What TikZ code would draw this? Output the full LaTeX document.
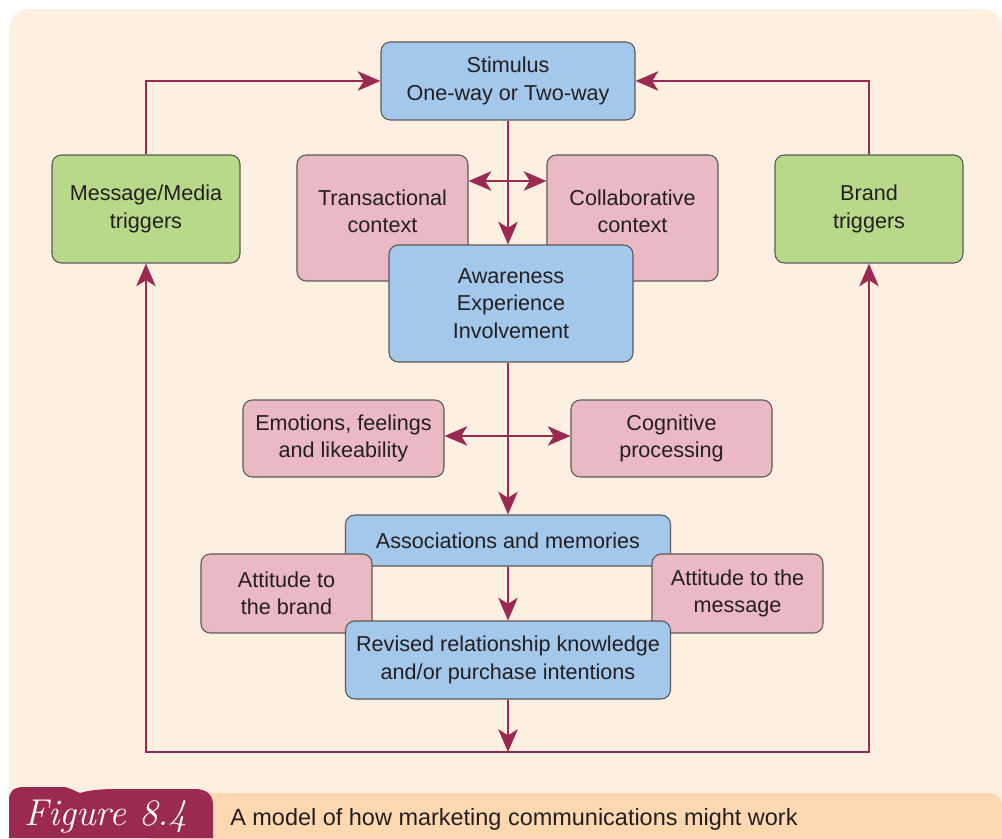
\documentclass[tikz,border=0pt]{standalone}
\usepackage{fontspec}
\newfontfamily\sansf{Liberation Sans}
\usetikzlibrary{arrows.meta}
\definecolor{cream}{HTML}{FDF0E1}
\definecolor{peach}{HTML}{FDD8B0}
\definecolor{badge}{HTML}{9B2A52}
\definecolor{bblue}{HTML}{A3C8EB}
\definecolor{bgreen}{HTML}{B9D98A}
\definecolor{bpink}{HTML}{EBB9C4}
\definecolor{bord}{HTML}{5A5A5A}
\definecolor{arrc}{HTML}{9B2A52}
\definecolor{txtc}{HTML}{231F20}
\tikzset{
  box/.style={draw=bord, line width=0.8pt, rounded corners=7pt, inner sep=0pt, align=center,
              font=\sansf\fontsize{16.2}{20.5}\selectfont, text=txtc},
  bluebox/.style={box, fill=bblue},
  greenbox/.style={box, fill=bgreen},
  pinkbox/.style={box, fill=bpink},
  txt/.style={align=center, font=\sansf\fontsize{16.2}{20.5}\selectfont, text=txtc, inner sep=0pt},
  tip/.tip={Stealth[length=17pt, width=14.5pt, inset=4.5pt]},
  arr/.style={draw=arrc, line width=2.1pt, -tip},
  arrtwo/.style={draw=arrc, line width=2.1pt, tip-tip}
}
\begin{document}
\begin{tikzpicture}[x=0.75pt, y=-0.75pt]
\useasboundingbox (0,0) rectangle (1002,838);
\fill[white] (0,0) rectangle (1002,838);
% panel
\fill[cream, rounded corners=15pt] (9,9) rectangle (1002,800);
\fill[cream] (9,400) rectangle (1002,800);
% caption bar
\fill[peach, rounded corners=9pt] (150,793) rectangle (1002,860);
% badge
\fill[badge] (9,838) -- (9,800) .. controls (9,791) and (14,787) .. (24,787)
  -- (62,787) .. controls (70,787) and (74,791) .. (80,793)
  .. controls (90,790) and (100,789) .. (120,789) -- (195,789)
  .. controls (207,789) and (213,795) .. (213,805) -- (213,838) -- cycle;
\node[anchor=west, text=white, inner sep=0pt, font=\itshape\fontsize{28}{32}\selectfont] (fig) at (24,817) {Figure 8.4};
\node[anchor=west, text=txtc, inner sep=0pt, font=\sansf\fontsize{17.6}{20}\selectfont] (cap) at (230,819) {A model of how marketing communications might work};

% boxes
\node[bluebox, minimum width=190.5pt, minimum height=58.5pt] (stim) at (508,81) {Stimulus\\One-way or Two-way};
\node[greenbox, minimum width=141pt, minimum height=81pt] (msg) at (146,209) {Message/Media\\triggers};
\node[greenbox, minimum width=141pt, minimum height=81pt] (brand) at (869,209) {Brand\\triggers};
\node[pinkbox, minimum width=128.25pt, minimum height=94.5pt] (trans) at (382.5,218) {};
\node[txt] (transT) at (382.5,211) {Transactional\\context};
\node[pinkbox, minimum width=128.25pt, minimum height=94.5pt] (collab) at (632.5,218) {};
\node[txt] (collabT) at (632.5,211) {Collaborative\\context};
\node[bluebox, minimum width=183pt, minimum height=87.75pt] (aware) at (511,303.5) {Awareness\\Experience\\Involvement};
\node[pinkbox, minimum width=150.75pt, minimum height=57.75pt] (emo) at (343.5,438.5) {Emotions, feelings\\and likeability};
\node[pinkbox, minimum width=150.75pt, minimum height=57.75pt] (cog) at (671.5,438.5) {Cognitive\\processing};
\node[bluebox, minimum width=243.75pt, minimum height=38.25pt] (assoc) at (508,540.5) {Associations and memories};
\node[pinkbox, minimum width=128.25pt, minimum height=59.25pt] (attb) at (286.5,593.5) {Attitude to\\the brand};
\node[pinkbox, minimum width=128.25pt, minimum height=59.25pt] (attm) at (737.5,593.5) {Attitude to the\\message};
\node[bluebox, minimum width=243.75pt, minimum height=58.5pt] (rev) at (508,660) {Revised relationship knowledge\\and/or purchase intentions};

\coordinate (junc) at (508,752);

% connectors
\draw[arr] (msg.north) |- (stim.west);
\draw[arr] (brand.north) |- (stim.east);
\draw[arr] (stim.south) -- (stim.south |- aware.north);
\draw[arrtwo] ([yshift=27.75pt]trans.east) -- ([yshift=27.75pt]collab.west);
\draw[arr] (aware.south -| assoc.north) -- (assoc.north);
\draw[arrtwo] ([yshift=1.9pt]emo.east) -- ([yshift=1.9pt]cog.west);
\draw[arr] (assoc.south) -- (rev.north);
\draw[arr] (rev.south) -- (junc);
\draw[arr] (junc) -| (msg.south);
\draw[arr] (junc) -| (brand.south);
\end{tikzpicture}
\end{document}
